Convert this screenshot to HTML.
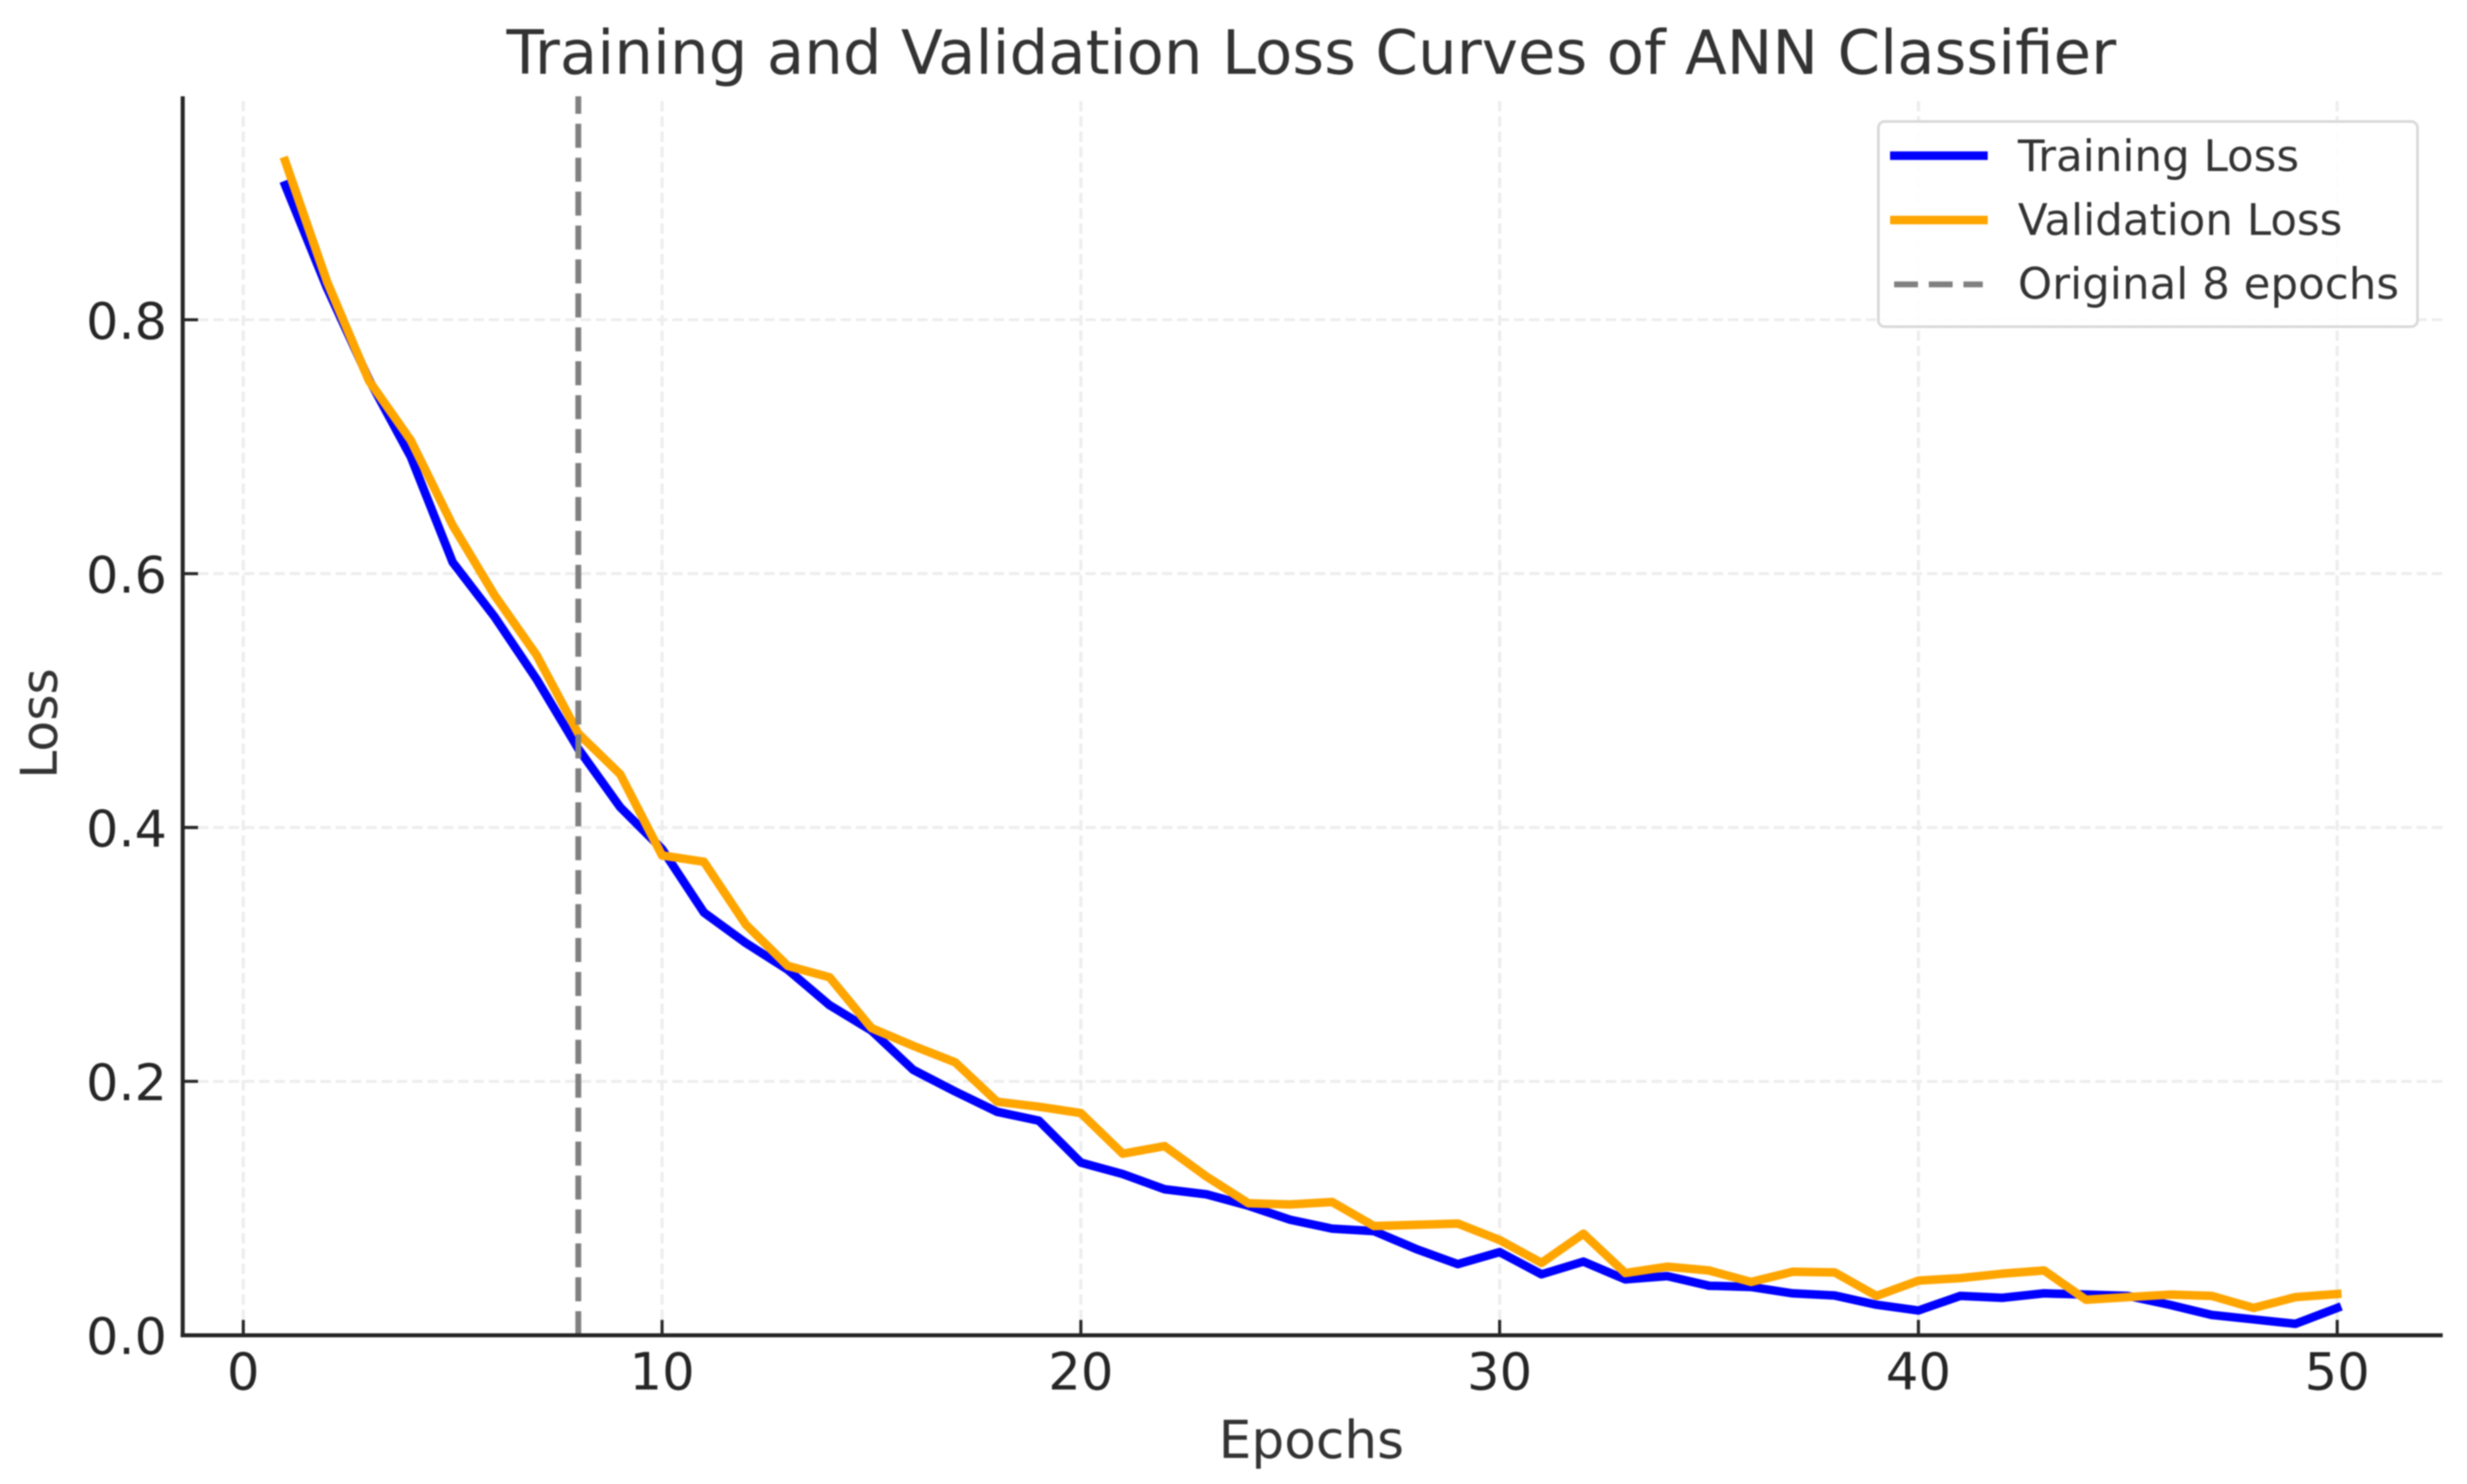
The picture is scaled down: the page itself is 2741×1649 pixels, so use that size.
<!DOCTYPE html>
<html lang="en">
<head>
<meta charset="utf-8">
<title>Training and Validation Loss Curves of ANN Classifier</title>
<style>
  html, body { margin: 0; padding: 0; background: #fff; }
  svg { display: block; filter: blur(0.7px); }
  text { font-family: "DejaVu Sans", "Liberation Sans", sans-serif; }
</style>
</head>
<body>
<svg id="chart" xmlns="http://www.w3.org/2000/svg" width="2741" height="1649" viewBox="0 0 2741 1649">
  <rect x="0" y="0" width="2741" height="1649" fill="#ffffff"/>
  <g id="grid"></g>
  <g id="marks"></g>
  <g id="axes"></g>
  <text x="1457" y="82" text-anchor="middle" font-size="67.85" fill="#333333">Training and Validation Loss Curves of ANN Classifier</text>
  <text x="1457" y="1620" text-anchor="middle" font-size="57.5" fill="#333333">Epochs</text>
  <text transform="translate(63,804) rotate(-90)" text-anchor="middle" font-size="56" fill="#333333">Loss</text>
  <g>
    <rect x="2087" y="135" width="599" height="228" rx="7" ry="7" fill="#ffffff" fill-opacity="0.85" stroke="#d9d9d9" stroke-width="3"/>
    <line x1="2100" y1="173" x2="2208.5" y2="173" stroke="#0000ff" stroke-width="9.5"/>
    <text x="2242" y="190" font-size="48.4" fill="#333333">Training Loss</text>
    <line x1="2100" y1="244.5" x2="2208.5" y2="244.5" stroke="#ffa500" stroke-width="9.5"/>
    <text x="2242" y="261" font-size="48.4" fill="#333333">Validation Loss</text>
    <line x1="2104.5" y1="316" x2="2203" y2="316" stroke="#808080" stroke-width="6.5" stroke-dasharray="26.5 12"/>
    <text x="2242" y="332" font-size="48.4" fill="#333333">Original 8 epochs</text>
  </g>
</svg>
<script>
const xTickLabels = ["0", "10", "20", "30", "40", "50"];
const yTickLabels = ["0.0", "0.2", "0.4", "0.6", "0.8"];
const originalEpochs = 8;
const trainingLoss = [
  0.906, 0.825, 0.753, 0.692, 0.609, 0.566, 0.517, 0.462, 0.416, 0.383,
  0.333, 0.309, 0.288, 0.260, 0.240, 0.209, 0.192, 0.176, 0.169, 0.136,
  0.127, 0.115, 0.111, 0.102, 0.091, 0.084, 0.082, 0.068, 0.056, 0.0655,
  0.048, 0.058, 0.044, 0.0466, 0.039, 0.038, 0.033, 0.0313, 0.024, 0.0195,
  0.031, 0.0295, 0.033, 0.032, 0.031, 0.024, 0.016, 0.0125, 0.009, 0.0215
];
const validationLoss = [
  0.925, 0.830, 0.752, 0.705, 0.638, 0.583, 0.536, 0.474, 0.442, 0.378,
  0.373, 0.3235, 0.291, 0.282, 0.242, 0.228, 0.215, 0.184, 0.180, 0.175,
  0.143, 0.149, 0.125, 0.104, 0.103, 0.105, 0.086, 0.087, 0.088, 0.075,
  0.057, 0.080, 0.049, 0.054, 0.051, 0.042, 0.050, 0.0495, 0.031, 0.043,
  0.045, 0.0485, 0.051, 0.028, 0.030, 0.032, 0.031, 0.0215, 0.030, 0.0325
];

const NS = "http://www.w3.org/2000/svg";
const plotLeft = 203, plotRight = 2714, plotTop = 107, plotBottom = 1483.7;
function xScale(v) { return 270.3 + 46.53 * v; }
function yScale(v) { return 1483.7 - 1410.5 * v; }
function make(tag, attrs, parent) {
  const el = document.createElementNS(NS, tag);
  for (const k in attrs) el.setAttribute(k, attrs[k]);
  parent.appendChild(el);
  return el;
}
const gridG = document.getElementById("grid");
const marksG = document.getElementById("marks");
const axesG = document.getElementById("axes");

xTickLabels.forEach(function (lab) {
  const x = xScale(parseFloat(lab));
  const g = make("line", {x1: x, x2: x, y1: plotBottom, y2: plotTop, stroke: "#ededed", "stroke-width": 3.5, "stroke-dasharray": "11.5 5.5"}, gridG);
  
  
  const t = make("line", {x1: x, x2: x, y1: plotBottom, y2: plotBottom - 17, stroke: "#262626", "stroke-width": 3.4}, axesG);
  
  
  const l = make("text", {x: x, y: 1544, "text-anchor": "middle", "font-size": 57, fill: "#262626"}, axesG);
  
  
  l.textContent = lab;
});

yTickLabels.forEach(function (lab) {
  const y = yScale(parseFloat(lab));
  const g = make("line", {x1: plotLeft, x2: plotRight, y1: y, y2: y, stroke: "#ededed", "stroke-width": 3.2, "stroke-dasharray": "11.5 5.5"}, gridG);
  
  
  const t = make("line", {x1: plotLeft, x2: plotLeft + 17, y1: y, y2: y, stroke: "#262626", "stroke-width": 3.4}, axesG);
  
  
  const l = make("text", {x: 185.5, y: y + 21, "text-anchor": "end", "font-size": 56.5, fill: "#262626"}, axesG);
  
  
  l.textContent = lab;
});

function seriesPoints(values) {
  return values.map(function (v, i) { return xScale(i + 1).toFixed(2) + "," + yScale(v).toFixed(2); }).join(" ");
}

const trainLine = make("polyline", {points: seriesPoints(trainingLoss), fill: "none", stroke: "#0000ff", "stroke-width": 9.5, "stroke-linejoin": "round", "stroke-linecap": "square"}, marksG);



const valLine = make("polyline", {points: seriesPoints(validationLoss), fill: "none", stroke: "#ffa500", "stroke-width": 9.5, "stroke-linejoin": "round", "stroke-linecap": "square"}, marksG);



const refX = xScale(originalEpochs);
const refLine = make("line", {x1: refX, x2: refX, y1: plotBottom, y2: plotTop, stroke: "#808080", "stroke-width": 6.5, "stroke-dasharray": "26.7 11"}, marksG);



const leftSpine = make("line", {x1: plotLeft, x2: plotLeft, y1: plotTop, y2: plotBottom + 2.2, stroke: "#262626", "stroke-width": 4.5}, axesG);



const bottomSpine = make("line", {x1: plotLeft - 2.2, x2: plotRight, y1: plotBottom, y2: plotBottom, stroke: "#262626", "stroke-width": 4.5}, axesG);


</script>
</body>
</html>
